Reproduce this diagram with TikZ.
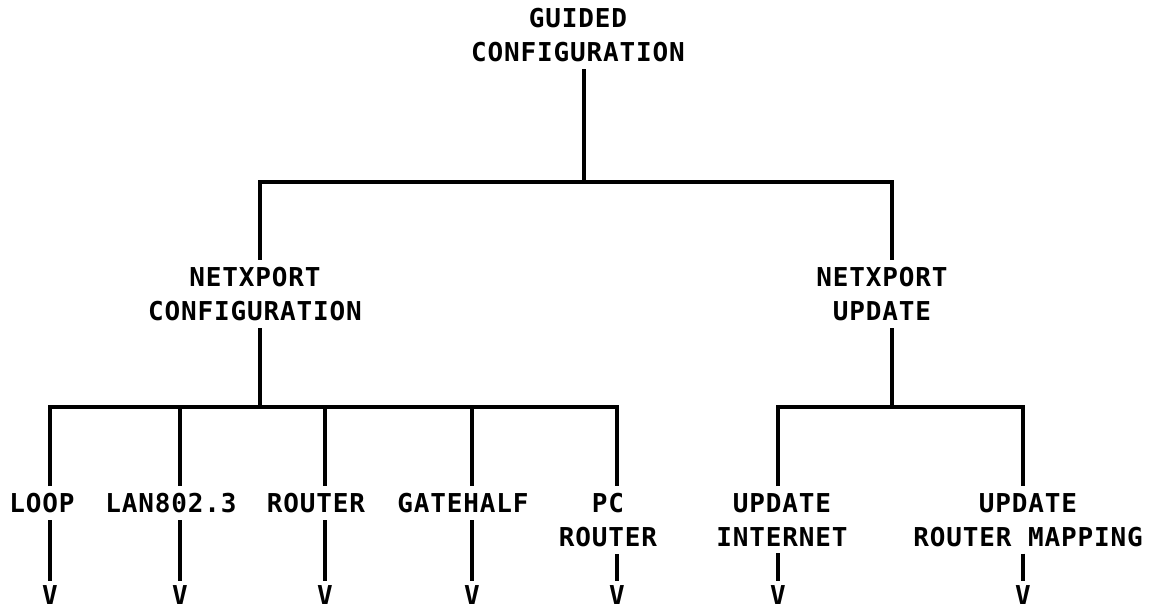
\documentclass[tikz,border=0pt]{standalone}
\usepackage{fontspec}
\newfontfamily\plotfont[LetterSpace=3.3]{DejaVu Sans Mono Bold}
\begin{document}
\begin{tikzpicture}[x=1pt,y=-1pt,
  lbl/.style={font=\plotfont\fontsize{26}{34}\selectfont, align=center, anchor=north, inner xsep=0pt, inner ysep=7pt},
  vtip/.style={font=\plotfont\fontsize{26}{34}\selectfont, anchor=north, inner xsep=0pt, inner ysep=4pt},
  wire/.style={line width=3.4pt, line join=miter}]
\useasboundingbox (0,0) rectangle (1149,609);

% level 0
\node[lbl] (gc) at (578,1) {GUIDED\\CONFIGURATION};
\coordinate (j0) at (584,182);
\coordinate (bL) at (260,182);
\coordinate (bR) at (892,182);

% level 1
\node[lbl] (ncfg) at (255,260) {NETXPORT\\CONFIGURATION};
\node[lbl] (nupd) at (882,260) {NETXPORT\\UPDATE};

\draw[wire] (gc.south -| j0) -- (j0);
\draw[wire] (ncfg.north -| bL) -- (bL) -- (bR) -- (nupd.north -| bR);

% level 2 junctions
\coordinate (j1) at (260,407);
\coordinate (j2) at (892,407);
\coordinate (k1) at (50,407);
\coordinate (k2) at (180,407);
\coordinate (k3) at (325,407);
\coordinate (k4) at (472,407);
\coordinate (k5) at (617,407);
\coordinate (m1) at (778,407);
\coordinate (m2) at (1023,407);

% leaves
\node[lbl] (loop)   at (42,486)   {LOOP};
\node[lbl] (lan)    at (171,486)  {LAN802.3};
\node[lbl] (router) at (316,486)  {ROUTER};
\node[lbl] (gate)   at (463,486)  {GATEHALF};
\node[lbl] (pcr)    at (608,486)  {PC\\ROUTER};
\node[lbl] (uint)   at (782,486)  {UPDATE\\INTERNET};
\node[lbl] (urm)    at (1028,486) {UPDATE\\ROUTER MAPPING};

% V marks
\node[vtip] (v1) at (50,581)   {V};
\node[vtip] (v2) at (180,581)  {V};
\node[vtip] (v3) at (325,581)  {V};
\node[vtip] (v4) at (472,581)  {V};
\node[vtip] (v5) at (617,581)  {V};
\node[vtip] (v6) at (778,581)  {V};
\node[vtip] (v7) at (1023,581) {V};

% connectors
\draw[wire] (ncfg.south -| j1) -- (j1);
\draw[wire] (nupd.south -| j2) -- (j2);
\draw[wire] (loop.north -| k1) -- (k1) -- (k5) -- (pcr.north -| k5);
\draw[wire] (k2) -- (lan.north -| k2);
\draw[wire] (k3) -- (router.north -| k3);
\draw[wire] (k4) -- (gate.north -| k4);
\draw[wire] (uint.north -| m1) -- (m1) -- (m2) -- (urm.north -| m2);

\draw[wire] (loop.south -| v1) -- (v1.north);
\draw[wire] (lan.south -| v2) -- (v2.north);
\draw[wire] (router.south -| v3) -- (v3.north);
\draw[wire] (gate.south -| v4) -- (v4.north);
\draw[wire] (pcr.south -| v5) -- (v5.north);
\draw[wire] (uint.south -| v6) -- (v6.north);
\draw[wire] (urm.south -| v7) -- (v7.north);
\end{tikzpicture}
\end{document}
